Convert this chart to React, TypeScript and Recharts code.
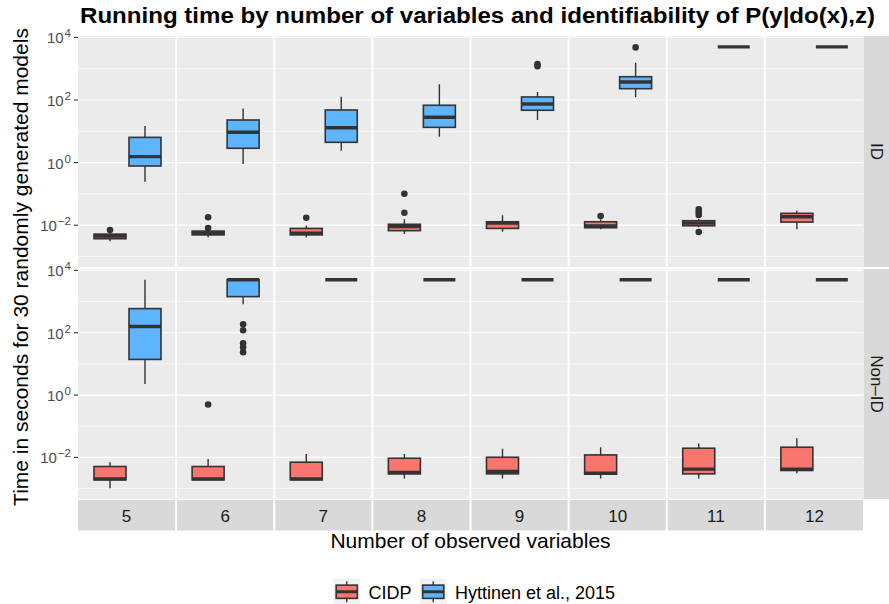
import React from "react";
import { Bar, CartesianGrid, ComposedChart, XAxis, YAxis } from "recharts";

// number of observed variables (one facet column each)
const variableCounts = ["5", "6", "7", "8", "9", "10", "11", "12"];

// ID facet, CIDP (seconds)
const idCidpLow = [0.0031, 0.0041, 0.0041, 0.0052, 0.0062, 0.0074, 0.0086, 0.0074];
const idCidpQ1 = [0.0037, 0.0049, 0.0049, 0.0067, 0.0079, 0.0083, 0.0096, 0.0126];
const idCidpMed = [0.0045, 0.0056, 0.0056, 0.0091, 0.0117, 0.0094, 0.0117, 0.0187];
const idCidpQ3 = [0.0052, 0.0065, 0.0079, 0.0107, 0.0129, 0.0129, 0.0139, 0.024];
const idCidpHigh = [0.0056, 0.007, 0.0096, 0.0155, 0.0207, 0.0155, 0.0162, 0.029];
const idCidpOut = [[0.007], [0.0081, 0.0179], [0.0174], [0.025, 0.101], [], [0.0197], [0.0212, 0.026, 0.032, 0.0061], []];

// ID facet, Hyttinen et al., 2015
const idHytLow = [0.245, 0.9, 2.4, 6.7, 23, 122, 5000, 5000];
const idHytQ1 = [0.78, 2.87, 4.45, 13.4, 47, 230, 5000, 5000];
const idHytMed = [1.55, 9.3, 13, 28, 74.5, 376, 5000, 5000];
const idHytQ3 = [6.4, 23, 48, 68, 125, 555, 5000, 5000];
const idHytHigh = [14.8, 54, 127, 318, 180, 1555, 5000, 5000];
const idHytOut = [[], [], [], [], [1200, 1400], [4800], [], []];

// Non-ID facet, CIDP
const nonCidpLow = [0.00103, 0.0019, 0.0019, 0.0021, 0.0021, 0.0021, 0.0021, 0.0031];
const nonCidpQ1 = [0.0019, 0.0019, 0.0019, 0.00296, 0.00296, 0.0029, 0.00296, 0.0038];
const nonCidpMed = [0.00205, 0.00205, 0.00205, 0.00327, 0.00352, 0.0031, 0.0042, 0.0042];
const nonCidpQ3 = [0.0051, 0.0051, 0.007, 0.0094, 0.0101, 0.012, 0.0197, 0.0212];
const nonCidpHigh = [0.007, 0.00895, 0.0129, 0.0129, 0.0191, 0.0212, 0.0277, 0.041];
const nonCidpOut = [[], [0.5], [], [], [], [], [], []];

// Non-ID facet, Hyttinen et al., 2015
const nonHytLow = [2.25, 817, 5000, 5000, 5000, 5000, 5000, 5000];
const nonHytQ1 = [13.9, 1440, 5000, 5000, 5000, 5000, 5000, 5000];
const nonHytMed = [158, 5000, 5000, 5000, 5000, 5000, 5000, 5000];
const nonHytQ3 = [594, 5000, 5000, 5000, 5000, 5000, 5000, 5000];
const nonHytHigh = [5000, 5000, 5000, 5000, 5000, 5000, 5000, 5000];
const nonHytOut = [[], [187, 120, 46, 34, 23.8], [], [], [], [], [], []];

const majorTicks = [1e-2, 1, 1e2, 1e4];
const minorTicks = [1e-3, 1e-1, 1e1, 1e3];
const legendLabels = ["CIDP", "Hyttinen et al., 2015"];

const Y_DOMAIN = [Math.pow(10, -3.335), Math.pow(10, 4.045)];
const FONT = "'Liberation Sans', Arial, Helvetica, sans-serif";
const INK = "#333333";
const CIDP_FILL = "#F8766D";
const HYT_FILL = "#5FB4FF";
const PANEL_BG = "#EBEBEB";
const STRIP_BG = "#D9D9D9";
const W = 889;
const H = 604;
const PLOT_LEFT = 78;
const PLOT_RIGHT = 863;

type Box = { low: number; q1: number; med: number; q3: number; high: number; out: number[] };

const boxAt = (low: number[], q1: number[], med: number[], q3: number[], high: number[], out: number[][], i: number): Box => ({
  low: low[i],
  q1: q1[i],
  med: med[i],
  q3: q3[i],
  high: high[i],
  out: out[i],
});

const rangeOf = (b: Box) => [Math.min(b.low, ...b.out), Math.max(b.high, ...b.out)];

const buildRows = (cidp: (i: number) => Box, hyt: (i: number) => Box) =>
  variableCounts.map((n, i) => {
    const c = cidp(i);
    const h = hyt(i);
    return { n, cidp: c, hyt: h, cidpRange: rangeOf(c), hytRange: rangeOf(h) };
  });

const idRows = buildRows(
  (i) => boxAt(idCidpLow, idCidpQ1, idCidpMed, idCidpQ3, idCidpHigh, idCidpOut, i),
  (i) => boxAt(idHytLow, idHytQ1, idHytMed, idHytQ3, idHytHigh, idHytOut, i)
);
const nonIdRows = buildRows(
  (i) => boxAt(nonCidpLow, nonCidpQ1, nonCidpMed, nonCidpQ3, nonCidpHigh, nonCidpOut, i),
  (i) => boxAt(nonHytLow, nonHytQ1, nonHytMed, nonHytQ3, nonHytHigh, nonHytOut, i)
);

const facets = [
  { label: "ID", top: 36, bottom: 267, rows: idRows },
  { label: "Non\u2013ID", top: 269, bottom: 499, rows: nonIdRows },
];

// the range bar gives the pixel span of [min, max]; interpolate in log space inside it
const BoxGlyph = (props: any) => {
  const { x, y, width, height, payload, series, fill } = props;
  const s: Box = payload[series];
  const [lo, hi] = payload[series + "Range"];
  const top = Math.min(y, y + height);
  const bottom = Math.max(y, y + height);
  const span = Math.log10(hi) - Math.log10(lo);
  const py = (v: number) =>
    span === 0 ? top : bottom - ((bottom - top) * (Math.log10(v) - Math.log10(lo))) / span;
  const cx = x + width / 2;
  const yQ3 = py(s.q3);
  const yQ1 = py(s.q1);
  return (
    <g>
      <line x1={cx} x2={cx} y1={py(s.high)} y2={yQ3} stroke={INK} strokeWidth={1.4} />
      <line x1={cx} x2={cx} y1={yQ1} y2={py(s.low)} stroke={INK} strokeWidth={1.4} />
      <rect x={x} y={yQ3} width={width} height={yQ1 - yQ3} fill={fill} stroke={INK} strokeWidth={1.6} />
      <line x1={x} x2={x + width} y1={py(s.med)} y2={py(s.med)} stroke={INK} strokeWidth={3.4} />
      {s.out.map((v, i) => (
        <circle key={i} cx={cx} cy={py(v)} r={3.3} fill={INK} />
      ))}
    </g>
  );
};

const LogTick = (props: any) => {
  const { x, y, payload } = props;
  const e = Math.round(Math.log10(payload.value));
  const exp = e < 0 ? "\u2212" + Math.abs(e) : String(e);
  return (
    <text x={x} y={y} textAnchor="end" fill="#4D4D4D" fontFamily={FONT} fontSize={15}>
      <tspan dy={6}>10</tspan>
      <tspan dy={-6} dx={1} fontSize={11.5}>
        {exp}
      </tspan>
    </text>
  );
};

const FacetChart = ({ rows, top, bottom }: { rows: any[]; top: number; bottom: number }) => (
  <div style={{ position: "absolute", left: 0, top: 0 }}>
    <ComposedChart
      width={W}
      height={H}
      data={rows}
      margin={{ top, right: W - PLOT_RIGHT, bottom: H - bottom, left: PLOT_LEFT - 60 }}
      barGap={3}
      barCategoryGap={0}
    >
      <CartesianGrid fill={PANEL_BG} stroke="#FFFFFF" strokeWidth={0.6} vertical={false} horizontalValues={minorTicks} />
      <CartesianGrid stroke="#FFFFFF" strokeWidth={1.2} vertical={false} horizontalValues={majorTicks} />
      <CartesianGrid
        stroke="#FFFFFF"
        strokeWidth={2}
        horizontal={false}
        verticalCoordinatesGenerator={({ offset }: any) =>
          variableCounts.slice(1).map((_, k) => offset.left + ((k + 1) * offset.width) / variableCounts.length)
        }
      />
      <XAxis dataKey="n" hide />
      <YAxis
        type="number"
        scale="log"
        domain={Y_DOMAIN}
        allowDataOverflow
        ticks={majorTicks}
        interval={0}
        width={60}
        axisLine={false}
        tickSize={4}
        tickMargin={3}
        tickLine={{ stroke: INK, strokeWidth: 1.1 }}
        tick={(p: any) => <LogTick {...p} />}
      />
      <Bar
        dataKey="cidpRange"
        barSize={32}
        isAnimationActive={false}
        shape={(p: any) => <BoxGlyph {...p} series="cidp" fill={CIDP_FILL} />}
      />
      <Bar
        dataKey="hytRange"
        barSize={32}
        isAnimationActive={false}
        shape={(p: any) => <BoxGlyph {...p} series="hyt" fill={HYT_FILL} />}
      />
    </ComposedChart>
  </div>
);

const LegendKey = ({ x, y, size, fill }: { x: number; y: number; size: number; fill: string }) => (
  <g>
    <rect x={x} y={y} width={size} height={size} fill="#F2F2F2" />
    <line x1={x + size / 2} x2={x + size / 2} y1={y + size * 0.1} y2={y + size * 0.9} stroke={INK} strokeWidth={1.4} />
    <rect x={x + size * 0.1} y={y + size * 0.25} width={size * 0.8} height={size * 0.5} fill={fill} stroke={INK} strokeWidth={1.6} />
    <line x1={x + size * 0.1} x2={x + size * 0.9} y1={y + size / 2} y2={y + size / 2} stroke={INK} strokeWidth={3} />
  </g>
);

const Overlay = () => {
  const band = (PLOT_RIGHT - PLOT_LEFT) / variableCounts.length;
  const legendX = [333.5, 420];
  const legendFills = [CIDP_FILL, HYT_FILL];
  return (
    <svg width={W} height={H} style={{ position: "absolute", left: 0, top: 0, pointerEvents: "none" }}>
      <text
        x={80}
        y={23}
        fontFamily={FONT}
        fontWeight="bold"
        fontSize={22.5}
        textLength={795}
        lengthAdjust="spacingAndGlyphs"
        fill="#000000"
      >
        Running time by number of variables and identifiability of P(y|do(x),z)
      </text>
      <text
        transform={`translate(28, 267) rotate(-90)`}
        textAnchor="middle"
        fontFamily={FONT}
        fontSize={21}
        fill="#000000"
      >
        Time in seconds for 30 randomly generated models
      </text>
      <text x={(PLOT_LEFT + PLOT_RIGHT) / 2} y={548} textAnchor="middle" fontFamily={FONT} fontSize={21} fill="#000000">
        Number of observed variables
      </text>
      {variableCounts.map((n, k) => {
        const x0 = PLOT_LEFT + k * band + (k > 0 ? 1 : 0);
        const x1 = PLOT_LEFT + (k + 1) * band - (k < variableCounts.length - 1 ? 1 : 0);
        return (
          <g key={n}>
            <rect x={x0} y={500} width={x1 - x0} height={30.5} fill={STRIP_BG} />
            <text x={(x0 + x1) / 2} y={521.5} textAnchor="middle" fontFamily={FONT} fontSize={17} fill="#1A1A1A">
              {n}
            </text>
          </g>
        );
      })}
      {facets.map((f) => (
        <g key={f.label}>
          <rect x={PLOT_RIGHT + 0.5} y={f.top} width={W - PLOT_RIGHT} height={f.bottom - f.top} fill={STRIP_BG} />
          <text
            transform={`translate(${PLOT_RIGHT + 13}, ${(f.top + f.bottom) / 2}) rotate(90)`}
            textAnchor="middle"
            dominantBaseline="central"
            fontFamily={FONT}
            fontSize={17}
            fill="#1A1A1A"
          >
            {f.label}
          </text>
        </g>
      ))}
      {legendLabels.map((label, i) => (
        <g key={label}>
          <LegendKey x={legendX[i]} y={578.5} size={26.5} fill={legendFills[i]} />
          <text x={legendX[i] + 35} y={598.5} fontFamily={FONT} fontSize={18} fill="#000000">
            {label}
          </text>
        </g>
      ))}
    </svg>
  );
};

export default function App() {
  return (
    <div style={{ position: "absolute", left: 0, top: 0, width: W, height: H, background: "#FFFFFF" }}>
      {facets.map((f) => (
        <FacetChart key={f.label} rows={f.rows} top={f.top} bottom={f.bottom} />
      ))}
      <Overlay />
    </div>
  );
}
